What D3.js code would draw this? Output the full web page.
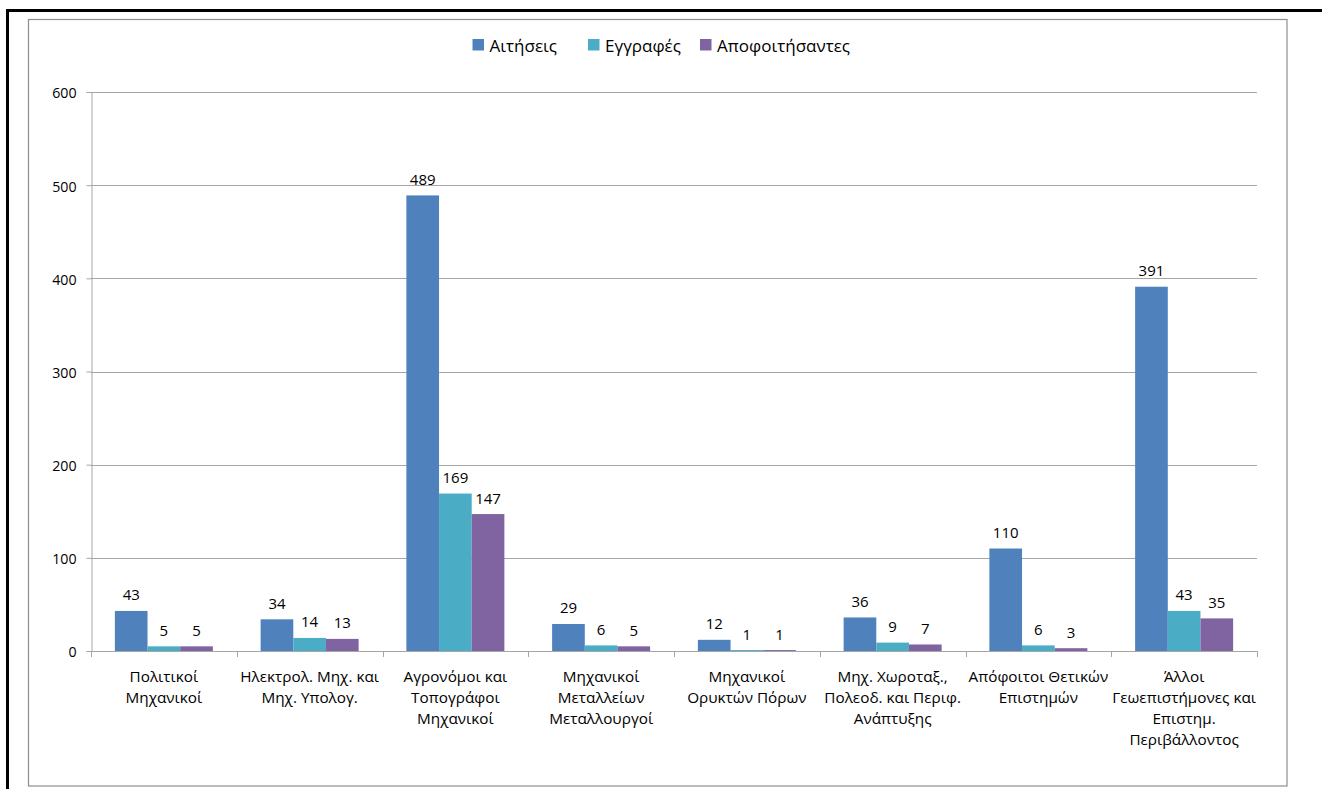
<!DOCTYPE html>
<html>
<head>
<meta charset="utf-8">
<script src="https://cdn.jsdelivr.net/npm/d3@7"></script>
<style>
  html, body { margin: 0; padding: 0; background: #fff; }
  svg { display: block; }
  text { font-family: "Open Sans", "Noto Sans", sans-serif; fill: #000; }
</style>
</head>
<body>
<svg id="chart" width="1322" height="789"></svg>
<script>
// Categories (one array of lines per label)
const categories = [
  ["Πολιτικοί", "Μηχανικοί"],
  ["Ηλεκτρολ. Μηχ. και", "Μηχ. Υπολογ."],
  ["Αγρονόμοι και", "Τοπογράφοι", "Μηχανικοί"],
  ["Μηχανικοί", "Μεταλλείων", "Μεταλλουργοί"],
  ["Μηχανικοί", "Ορυκτών Πόρων"],
  ["Μηχ. Χωροταξ.,", "Πολεοδ. και Περιφ.", "Ανάπτυξης"],
  ["Απόφοιτοι Θετικών", "Επιστημών"],
  ["Άλλοι", "Γεωεπιστήμονες και", "Επιστημ.", "Περιβάλλοντος"]
];
const seriesNames = ["Αιτήσεις", "Εγγραφές", "Αποφοιτήσαντες"];
const aitiseis = [43, 34, 489, 29, 12, 36, 110, 391];
const eggrafes = [5, 14, 169, 6, 1, 9, 6, 43];
const apofoitisantes = [5, 13, 147, 5, 1, 7, 3, 35];
const yTicks = [0, 100, 200, 300, 400, 500, 600];
const colors = ["#4F81BD", "#4BACC6", "#8064A2"];

const series = [aitiseis, eggrafes, apofoitisantes];
const svg = d3.select("#chart");

// Outer page border (top and left) and chart frame
svg.append("line").attr("x1", 7.5).attr("x2", 1322).attr("y1", 10.5).attr("y2", 10.5)
  .attr("stroke", "#000").attr("stroke-width", 3);
svg.append("line").attr("x1", 7.5).attr("x2", 7.5).attr("y1", 9).attr("y2", 789)
  .attr("stroke", "#000").attr("stroke-width", 3);
svg.append("rect").attr("x", 28.5).attr("y", 19.5).attr("width", 1258.5).attr("height", 766.5)
  .attr("fill", "#fff").attr("stroke", "#8e8e8e").attr("stroke-width", 1.2);

const plot = { left: 91, right: 1257, top: 92, bottom: 651 };

const x0 = d3.scaleBand().domain(d3.range(categories.length))
  .range([plot.left, plot.right]).paddingInner(0).paddingOuter(0);
const groupW = 98 / 145.75;
const x1 = d3.scaleBand().domain(d3.range(series.length))
  .range([0, x0.bandwidth() * groupW]);
const groupOffset = x0.bandwidth() * (1 - groupW) / 2;
const y = d3.scaleLinear().domain([0, 600]).range([plot.bottom, plot.top]);

// Horizontal gridlines
svg.append("g").selectAll("line").data(yTicks.filter(d => d > 0)).join("line")
  .attr("x1", plot.left).attr("x2", plot.right)
  .attr("y1", d => Math.round(y(d)) + 0.5).attr("y2", d => Math.round(y(d)) + 0.5)
  .attr("stroke", "#a6a6a6").attr("stroke-width", 1);

// Y axis
const yAxis = svg.append("g").attr("transform", `translate(${plot.left + 0.5},0)`)
  .call(d3.axisLeft(y).tickValues(yTicks).tickSize(5).tickPadding(10));
yAxis.select(".domain").attr("stroke", "#a6a6a6");
yAxis.selectAll(".tick line").attr("stroke", "#a6a6a6");
yAxis.selectAll(".tick text").attr("font-size", 14.2).attr("font-family", "'Open Sans', sans-serif")
  .attr("fill", "#000").attr("dy", "0.42em");

// Bars
const groups = svg.append("g").selectAll("g").data(categories).join("g")
  .attr("transform", (d, i) => `translate(${x0(i) + groupOffset},0)`);
groups.each(function(_, i) {
  const g = d3.select(this);
  series.forEach((s, k) => {
    g.append("rect")
      .attr("x", x1(k)).attr("width", x1.bandwidth())
      .attr("y", y(s[i])).attr("height", y(0) - y(s[i]))
      .attr("fill", colors[k]);
    g.append("text")
      .attr("x", x1(k) + x1.bandwidth() / 2).attr("y", y(s[i]) - 10.5)
      .attr("text-anchor", "middle").attr("font-size", 15)
      .text(s[i]);
  });
});

// X axis line and category ticks
const xAxisG = svg.append("g");
xAxisG.append("line").attr("x1", plot.left).attr("x2", plot.right)
  .attr("y1", plot.bottom + 0.5).attr("y2", plot.bottom + 0.5).attr("stroke", "#a6a6a6");
xAxisG.selectAll("line.t").data(d3.range(categories.length + 1)).join("line")
  .attr("class", "t")
  .attr("x1", i => Math.round(plot.left + i * x0.bandwidth()) + 0.5)
  .attr("x2", i => Math.round(plot.left + i * x0.bandwidth()) + 0.5)
  .attr("y1", plot.bottom).attr("y2", plot.bottom + 6).attr("stroke", "#a6a6a6");

// Category labels
svg.append("g").selectAll("text").data(categories).join("text")
  .attr("text-anchor", "middle").attr("font-size", 15.3)
  .each(function(lines, i) {
    const t = d3.select(this);
    lines.forEach((ln, j) => {
      t.append("tspan").attr("x", x0(i) + x0.bandwidth() / 2)
        .attr("y", 682 + j * 21).text(ln);
    });
  });

// Legend
const legend = svg.append("g");
const legendItems = [
  { name: seriesNames[0], x: 472.5 },
  { name: seriesNames[1], x: 588 },
  { name: seriesNames[2], x: 700 }
];
legendItems.forEach((it, k) => {
  legend.append("rect").attr("x", it.x).attr("y", 39).attr("width", 11.5).attr("height", 11.5)
    .attr("fill", colors[k]);
  legend.append("text").attr("x", it.x + 17).attr("y", 51.5).attr("font-size", 17).text(it.name);
});
</script>
</body>
</html>
